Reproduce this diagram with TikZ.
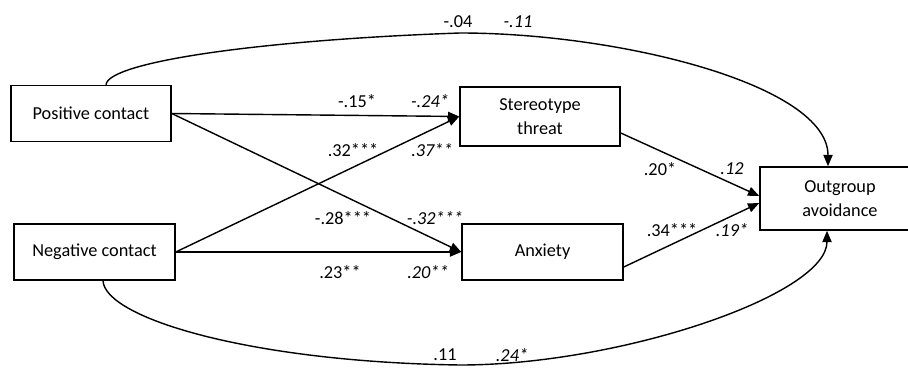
\documentclass[tikz,border=0pt]{standalone}
\usepackage{fontspec}
\setmainfont{Carlito}
\usetikzlibrary{arrows.meta}

\begin{document}
\begin{tikzpicture}
\tikzstyle{var} = [draw, line width=1.1pt, minimum width=4cm, minimum height=1.4cm, align=center, font=\fontsize{13}{17}\selectfont]
\tikzstyle{link} = [line width=1pt, -{Triangle[length=8pt,width=6.5pt]}]
\tikzstyle{coef} = [inner sep=0pt, font=\fontsize{13}{16}\selectfont]
\tikzstyle{coefi} = [inner sep=0pt, font=\fontsize{13}{16}\selectfont\itshape]
\useasboundingbox (0,0) rectangle (22.7,9.175);
\node [var] (pc) at (2.275,6.3375) {Positive contact};
\node [var, minimum width=4.025cm] (nc) at (2.3625,2.875) {Negative contact};
\node [var, minimum height=1.475cm] (st) at (13.5,6.2625) {Stereotype\\threat};
\node [var, minimum width=4.025cm] (anx) at (13.5625,2.875) {Anxiety};
\node [var, minimum height=1.575cm] (oa) at (21,4.2125) {Outgroup\\avoidance};
% paths to the mediators
\draw [link] (pc.east) -- (st.west);
\draw [link] (pc.east) -- (anx.west);
\draw [link] (nc.east) -- (st.west);
\draw [link] (nc.east) -- (anx.west);
% paths to the outcome
\draw [link] ([yshift=-0.4125cm]st.east) -- ([yshift=0.0625cm]oa.west);
\draw [link] ([yshift=-0.375cm]anx.east) -- ([yshift=-0.1125cm]oa.west);
% direct effects
\draw [link] ([xshift=0.375cm]pc.north) .. controls (2.7,7.625) and (6.5,8.175) .. (11.5,8.35)
  .. controls (15.5,8.35) and (20.7,7.05) .. ([xshift=-0.3cm]oa.north);
\draw [link] ([xshift=0.2125cm]nc.south) .. controls (2.625,1.225) and (6.25,0.125) .. (11.5,0.05)
  .. controls (15.5,0.05) and (20.675,1.8) .. ([xshift=-0.325cm]oa.south);
% coefficients
\node [coef] (c1) at (8.925,6.65) {-.15*};
\node [coefi] (c2) at (10.75,6.65) {-.24*};
\node [coef] (c3) at (8.825,5.425) {.32***};
\node [coefi] (c4) at (10.8,5.425) {.37**};
\node [coef] (c5) at (8.575,3.725) {-.28***};
\node [coefi] (c6) at (10.875,3.725) {-.32***};
\node [coef] (c7) at (8.5,2.375) {.23**};
\node [coefi] (c8) at (10.7,2.375) {.20**};
\node [coef] (c9) at (16.5,4.95) {.20*};
\node [coefi] (c10) at (18.3,4.95) {.12};
\node [coef] (c11) at (16.8,3.425) {.34***};
\node [coefi] (c12) at (18.3,3.425) {.19*};
\node [coef] (c13) at (11.45,8.625) {-.04};
\node [coefi] (c14) at (12.95,8.625) {-.11};
\node [coef] (c15) at (11.125,0.3) {.11};
\node [coefi] (c16) at (12.8,0.3) {.24*};
\end{tikzpicture}
\end{document}
